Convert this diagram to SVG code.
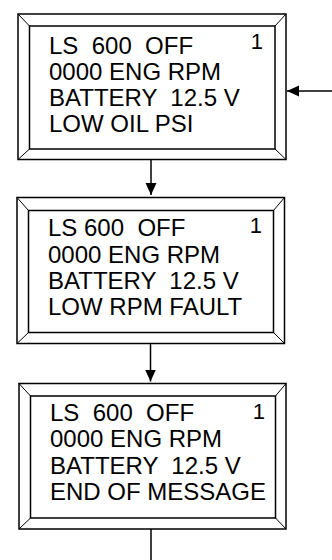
<svg xmlns="http://www.w3.org/2000/svg" width="332" height="560" viewBox="0 0 332 560">
<style>
.frame{fill:none;stroke:#000;stroke-width:1.5}
.bev{fill:none;stroke:#000;stroke-width:1}
.t{font-family:"Liberation Sans",Arial,sans-serif;font-size:24px;fill:#000;white-space:pre}
.n{font-family:"Liberation Sans",Arial,sans-serif;font-size:22px;fill:#000;text-anchor:end}
.c{fill:none;stroke:#000;stroke-width:1.5}
</style>
<defs>
<marker id="ah" viewBox="0 0 12 12" refX="12" refY="6" markerWidth="12" markerHeight="12" markerUnits="userSpaceOnUse" orient="auto">
<path d="M0,0.5 L12,6 L0,11.5 Z" fill="#000"/>
</marker>
</defs>
<rect width="332" height="560" fill="#fff"/>
<g id="node1">
<rect class="frame" x="18" y="14" width="268" height="145.5"/>
<rect class="frame" x="29.5" y="26" width="245.5" height="123"/>
<path class="bev" d="M18,14 L29.5,26 M286,14 L275,26 M18,159.5 L29.5,149 M286,159.5 L275,149"/>
<text class="t" x="49" y="54">LS  600  OFF</text>
<text class="t" x="49" y="80">0000 ENG RPM</text>
<text class="t" x="49" y="105.5">BATTERY  12.5 V</text>
<text class="t" x="49" y="131.5">LOW OIL PSI</text>
<text class="n" x="263" y="48.5">1</text>
</g>
<g id="node2">
<rect class="frame" x="17" y="197.5" width="267.5" height="146"/>
<rect class="frame" x="28.5" y="210.5" width="245" height="122"/>
<path class="bev" d="M17,197.5 L28.5,210.5 M284.5,197.5 L273.5,210.5 M17,343.5 L28.5,332.5 M284.5,343.5 L273.5,332.5"/>
<text class="t" x="48" y="236">LS 600  OFF</text>
<text class="t" x="48" y="262.5">0000 ENG RPM</text>
<text class="t" x="48" y="289">BATTERY  12.5 V</text>
<text class="t" x="48" y="315">LOW RPM FAULT</text>
<text class="n" x="262" y="232.5">1</text>
</g>
<g id="node3">
<rect class="frame" x="19" y="383.5" width="267" height="145.5"/>
<rect class="frame" x="30.5" y="396" width="245" height="122"/>
<path class="bev" d="M19,383.5 L30.5,396 M286,383.5 L275.5,396 M19,529 L30.5,518 M286,529 L275.5,518"/>
<text class="t" x="50" y="421">LS  600  OFF</text>
<text class="t" x="50" y="447">0000 ENG RPM</text>
<text class="t" x="50" y="473.5">BATTERY  12.5 V</text>
<text class="t" x="50" y="500">END OF MESSAGE</text>
<text class="n" x="265" y="418.5">1</text>
</g>
<g id="connectors">
<line class="c" x1="332" y1="91" x2="287" y2="91" marker-end="url(#ah)"/>
<line class="c" x1="151" y1="159.5" x2="151" y2="195" marker-end="url(#ah)"/>
<line class="c" x1="150.5" y1="343.5" x2="150.5" y2="381.5" marker-end="url(#ah)"/>
<line class="c" x1="151" y1="529" x2="151" y2="560"/>
</g>
</svg>
